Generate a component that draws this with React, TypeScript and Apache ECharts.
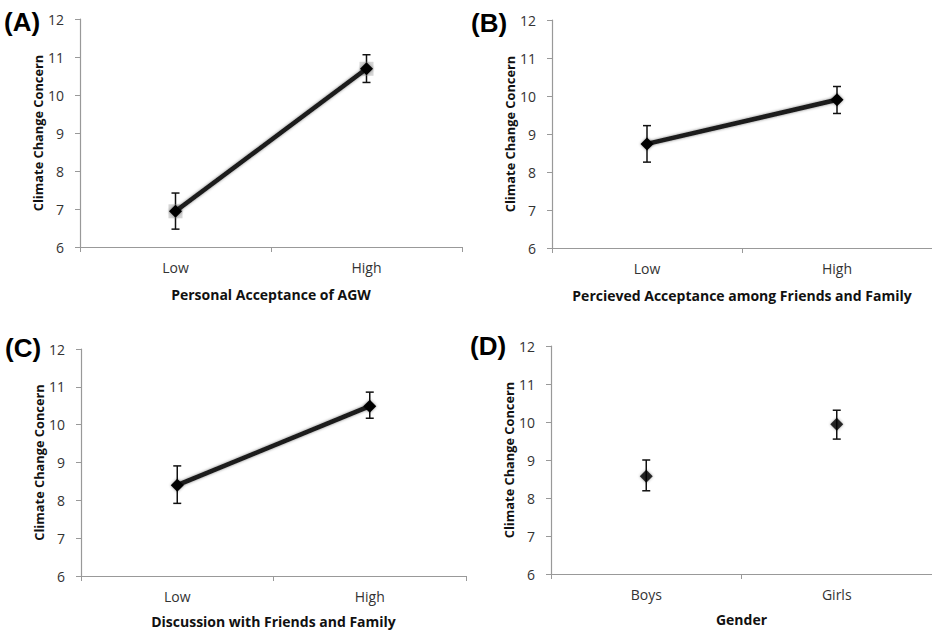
import React, { useEffect, useRef } from "react";
import * as echarts from "echarts";

const panelLabels = ["(A)", "(B)", "(C)", "(D)"];
const xNames = [
  "Personal Acceptance of AGW",
  "Percieved Acceptance among Friends and Family",
  "Discussion with Friends and Family",
  "Gender",
];
const yName = "Climate Change Concern";
const catsA = ["Low", "High"];
const catsB = ["Low", "High"];
const catsC = ["Low", "High"];
const catsD = ["Boys", "Girls"];
const meanA = [6.94, 10.69];
const lowA = [6.47, 10.33];
const highA = [7.42, 11.06];
const meanB = [8.74, 9.9];
const lowB = [8.26, 9.54];
const highB = [9.22, 10.25];
const meanC = [8.4, 10.49];
const lowC = [7.92, 10.17];
const highC = [8.91, 10.86];
const meanD = [8.57, 9.94];
const lowD = [8.19, 9.55];
const highD = [9.0, 10.31];
const yTicks = { min: 6, max: 12, interval: 1 };

const panels = [
  { cats: catsA, mean: meanA, low: lowA, high: highA, line: true, halo: true },
  { cats: catsB, mean: meanB, low: lowB, high: highB, line: true, halo: false },
  { cats: catsC, mean: meanC, low: lowC, high: highC, line: true, halo: false },
  { cats: catsD, mean: meanD, low: lowD, high: highD, line: false, halo: false },
];

const grids = [
  { left: 80, top: 19, width: 382, height: 228 },
  { left: 552, top: 20, width: 380, height: 228 },
  { left: 81, top: 349, width: 385, height: 227 },
  { left: 551, top: 346, width: 381, height: 228 },
];

const labelPos = [
  { x: 4, y: 9 },
  { x: 471, y: 10 },
  { x: 5, y: 335 },
  { x: 470, y: 333 },
];

const FONT = "'Open Sans', Lato, sans-serif";

export default function App() {
  const ref = useRef<HTMLDivElement>(null);
  useEffect(() => {
    if (!ref.current) return;
    const chart = echarts.init(ref.current, undefined, { renderer: "svg" });
    const xAxis: any[] = [];
    const yAxis: any[] = [];
    const series: any[] = [];
    panels.forEach((p, i) => {
      xAxis.push({
        type: "category",
        gridIndex: i,
        data: p.cats,
        boundaryGap: true,
        name: xNames[i],
        nameLocation: "middle",
        nameGap: i < 2 ? 40 : 38,
        nameTextStyle: { fontFamily: FONT, fontWeight: "bold", fontSize: 14, color: "#111" },
        axisLine: { lineStyle: { color: "#999", width: 1.2 } },
        axisTick: { show: true, length: 5, lineStyle: { color: "#999" } },
        axisLabel: { fontFamily: FONT, fontSize: 14, color: "#333", margin: 13 },
        splitLine: { show: false },
      });
      yAxis.push({
        type: "value",
        gridIndex: i,
        min: yTicks.min,
        max: yTicks.max,
        interval: yTicks.interval,
        name: yName,
        nameLocation: "middle",
        nameGap: 35,
        nameTextStyle: { fontFamily: FONT, fontWeight: "bold", fontSize: 12.8, color: "#111" },
        axisLine: { show: true, lineStyle: { color: "#999", width: 1.2 } },
        axisTick: { show: true, length: 5, lineStyle: { color: "#999" } },
        axisLabel: { fontFamily: FONT, fontSize: 14, color: "#333", margin: 16 },
        splitLine: { show: false },
      });
      const errData = p.cats.map((c, k) => [k, p.low[k], p.high[k]]);
      series.push({
        type: "custom",
        xAxisIndex: i,
        yAxisIndex: i,
        data: errData,
        z: 2,
        renderItem: (params: any, api: any) => {
          const x = api.value(0);
          const lo = api.coord([x, api.value(1)]);
          const hi = api.coord([x, api.value(2)]);
          const hw = 4;
          const st = { stroke: "#111", lineWidth: 1.5 };
          return {
            type: "group",
            children: [
              { type: "line", shape: { x1: lo[0], y1: lo[1], x2: hi[0], y2: hi[1] }, style: st },
              { type: "line", shape: { x1: lo[0] - hw, y1: lo[1], x2: lo[0] + hw, y2: lo[1] }, style: st },
              { type: "line", shape: { x1: hi[0] - hw, y1: hi[1], x2: hi[0] + hw, y2: hi[1] }, style: st },
            ],
          };
        },
      });
      if (p.halo) {
        series.push({
          type: "scatter",
          xAxisIndex: i,
          yAxisIndex: i,
          data: p.mean,
          symbol: "rect",
          symbolSize: 14,
          itemStyle: { color: "rgba(170,170,170,0.6)" },
          z: 3,
        });
      }
      series.push({
        type: p.line ? "line" : "scatter",
        xAxisIndex: i,
        yAxisIndex: i,
        data: p.mean,
        symbol: "diamond",
        symbolSize: 13,
        showSymbol: true,
        itemStyle: { color: "#000", shadowColor: "rgba(0,0,0,0.45)", shadowBlur: 3 },
        lineStyle: p.line
          ? { color: "#1a1a1a", width: 4.5, shadowColor: "rgba(0,0,0,0.5)", shadowBlur: 3 }
          : undefined,
        z: 4,
      });
    });
    chart.setOption({
      animation: false,
      backgroundColor: "#fff",
      grid: grids.map((g) => ({ ...g, containLabel: false })),
      xAxis,
      yAxis,
      series,
      graphic: panelLabels.map((t, i) => ({
        type: "text",
        left: labelPos[i].x,
        top: labelPos[i].y,
        style: {
          text: t,
          fontFamily: "'Liberation Sans', Arial, sans-serif",
          fontWeight: "bold",
          fontSize: 26,
          fill: "#000",
        },
      })),
    });
    return () => chart.dispose();
  }, []);
  return (
    <div
      ref={ref}
      style={{ position: "absolute", left: 0, top: 0, width: 932, height: 634 }}
    />
  );
}
